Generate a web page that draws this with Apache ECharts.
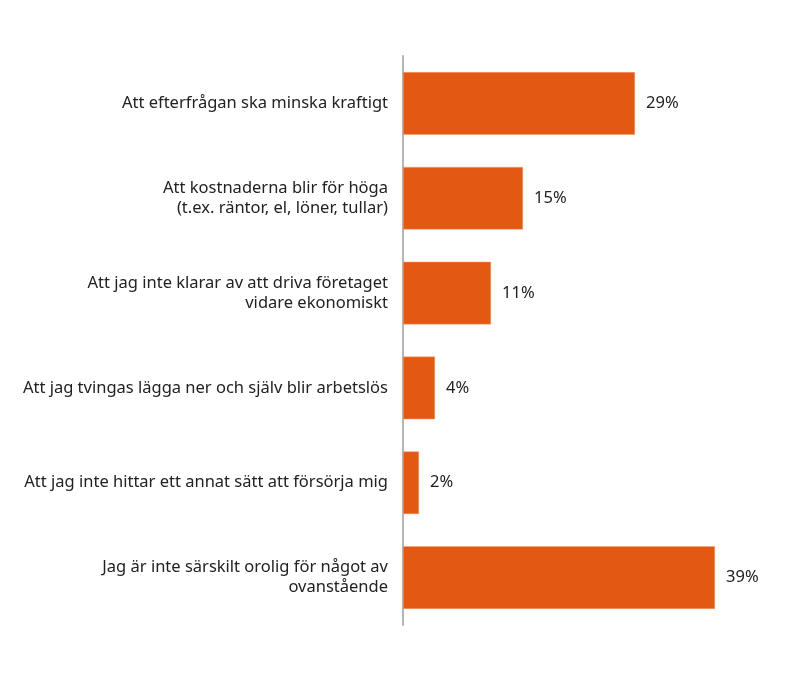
<!DOCTYPE html>
<html>
<head>
<meta charset="utf-8">
<script src="https://cdn.jsdelivr.net/npm/echarts@6/dist/echarts.min.js"></script>
<style>
  html, body { margin: 0; padding: 0; background: #fff; }
  #chart { width: 800px; height: 700px; }
</style>
</head>
<body>
<div id="chart"></div>
<script>
const categories = [
  'Att efterfrågan ska minska kraftigt',
  'Att kostnaderna blir för höga\n(t.ex. räntor, el, löner, tullar)',
  'Att jag inte klarar av att driva företaget\nvidare ekonomiskt',
  'Att jag tvingas lägga ner och själv blir arbetslös',
  'Att jag inte hittar ett annat sätt att försörja mig',
  'Jag är inte särskilt orolig för något av\novanstående'
]
const values = [29, 15, 11, 4, 2, 39]

const chart = echarts.init(document.getElementById('chart'))

const option = {
  animation: false,
  textStyle: {
    fontFamily: 'Noto Sans',
    color: '#222'
  },
  grid: {
    left: 403,
    right: 37,
    top: 56,
    bottom: 75,
    containLabel: false
  },
  xAxis: {
    type: 'value',
    min: 0,
    max: 45,
    show: false
  },
  yAxis: {
    type: 'category',
    inverse: true,
    data: categories,
    axisLine: {
      show: true,
      lineStyle: { color: '#b5b5b5', width: 2 }
    },
    axisTick: { show: false },
    axisLabel: {
      fontSize: 16.5,
      lineHeight: 20,
      color: '#222',
      margin: 15,
      align: 'right'
    }
  },
  series: [
    {
      type: 'bar',
      data: values,
      barWidth: '66%',
      itemStyle: {
        color: '#e35812',
        borderColor: '#f0a07a',
        borderWidth: 0.5
      },
      label: {
        show: true,
        position: 'right',
        distance: 11,
        fontSize: 16.5,
        color: '#222',
        formatter: p => p.value + '%'
      }
    }
  ]
}

chart.setOption(option)
</script>
</body>
</html>
